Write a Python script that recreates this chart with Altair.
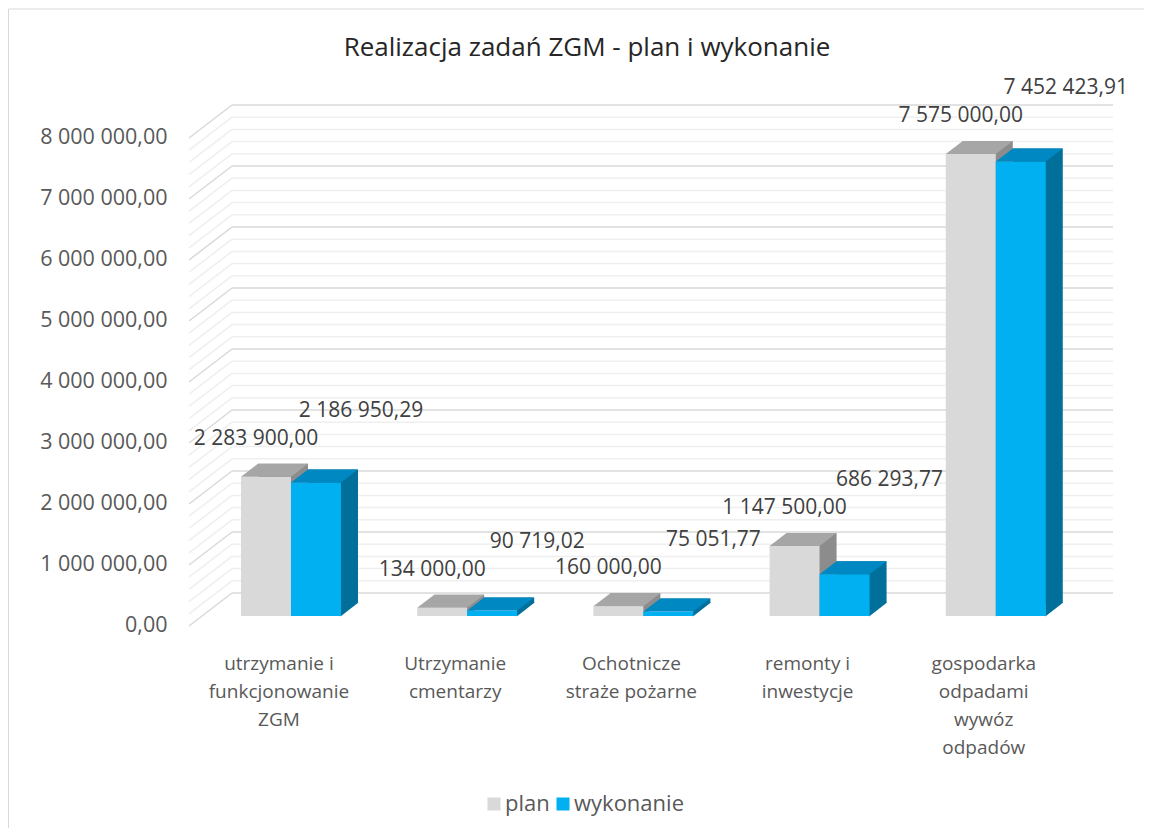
import altair as alt
import pandas as pd

title_text = "Realizacja zadań ZGM - plan i wykonanie"
categories = [
    "utrzymanie i|funkcjonowanie|ZGM",
    "Utrzymanie|cmentarzy",
    "Ochotnicze|straże pożarne",
    "remonty i|inwestycje",
    "gospodarka|odpadami|wywóz|odpadów",
]
series_names = ["plan", "wykonanie"]
plan_values = [2283900.00, 134000.00, 160000.00, 1147500.00, 7575000.00]
wykonanie_values = [2186950.29, 90719.02, 75051.77, 686293.77, 7452423.91]
y_ticks = [0, 1000000, 2000000, 3000000, 4000000, 5000000, 6000000, 7000000, 8000000]
minor_ticks = [v for v in range(0, 8000001, 200000) if v % 1000000 != 0]

front_colors = ["#D9D9D9", "#00B0F0"]
top_colors = ["#A6A6A6", "#0088C2"]
side_colors = ["#8C8C8C", "#006F9A"]

rows = []
for c, p, w in zip(categories, plan_values, wykonanie_values):
    rows.append({"cat": c, "series": "plan", "value": p})
    rows.append({"cat": c, "series": "wykonanie", "value": w})
df = pd.DataFrame(rows)

FONT = "Open Sans"
W, H = 924, 488
FRONT = 23      # front face drop below back wall (px)
DEPTH_Y = 13

x_enc = alt.X(
    "cat:N",
    sort=categories,
    scale=alt.Scale(paddingInner=0.4325, paddingOuter=0.3383, align=0.436),
    axis=alt.Axis(
        title=None, domain=False, ticks=False, grid=False, labelAngle=0,
        labelExpr="split(datum.label, '|')", labelLineHeight=28,
        labelFontSize=19, labelColor="#595959", labelPadding=61,
        labelOffset=-12, labelLimit=0, labelBaseline="top",
    ),
)
y_scale = alt.Scale(domain=[0, 8000000], nice=False, zero=True)
y_axis = alt.Axis(
    title=None, values=y_ticks, format=",.2f", domain=False, ticks=False,
    grid=False, labelFontSize=21.5, labelColor="#595959", labelPadding=22,
    labelOffset=32,
)
y_enc = alt.Y("value:Q", scale=y_scale, axis=y_axis)
xo_front = alt.XOffset("series:N", scale=alt.Scale(domain=series_names, paddingInner=0, paddingOuter=0))
xo_back = alt.XOffset("series:N", scale=alt.Scale(domain=series_names, range=[17, 117], paddingInner=0, paddingOuter=0))
xo_point = alt.XOffset("series:N", scale=alt.Scale(type="point", domain=series_names, range=[25, 75], padding=0))

base = alt.Chart(df)

border = alt.Chart(pd.DataFrame({"a": [0]})).mark_rect(
    fill=None, stroke="#D9D9D9", strokeWidth=1
).encode(x=alt.value(-180.5), x2=alt.value(1200), y=alt.value(-96), y2=alt.value(900))

grid_major = alt.Chart(pd.DataFrame({"value": y_ticks}))
grid_minor = alt.Chart(pd.DataFrame({"value": minor_ticks}))
gy2 = alt.Y2("value:Q")

minor_h = grid_minor.mark_rule(color="#EFEFEF", strokeWidth=1.5).encode(
    x=alt.value(43), x2=alt.value(W), y=y_enc)
minor_d = grid_minor.mark_rule(color="#EFEFEF", strokeWidth=1.5, yOffset=33).encode(
    x=alt.value(0), x2=alt.value(43), y=y_enc, y2=gy2)
major_h = grid_major.mark_rule(color="#D9D9D9", strokeWidth=1.5).encode(
    x=alt.value(43), x2=alt.value(W), y=y_enc)
major_d = grid_major.mark_rule(color="#D9D9D9", strokeWidth=1.5, yOffset=33).encode(
    x=alt.value(0), x2=alt.value(43), y=y_enc, y2=gy2)

back = base.mark_bar(yOffset=FRONT - DEPTH_Y, y2Offset=FRONT - DEPTH_Y).encode(
    x=x_enc, xOffset=xo_back, y=y_enc,
    color=alt.Color("series:N", scale=alt.Scale(domain=series_names, range=side_colors), legend=None),
)
tri = base.transform_calculate(zero="0").mark_point(
    shape="M0.49,0.01L0.49,-0.27L0.85,-0.27Z", size=10000, filled=True, opacity=1,
    strokeWidth=0, yOffset=FRONT,
).encode(
    x=x_enc, xOffset=xo_point, y=alt.Y("zero:Q", scale=y_scale, axis=y_axis),
    color=alt.Color("series:N", scale=alt.Scale(domain=series_names, range=side_colors), legend=None),
)
front = base.mark_bar(yOffset=FRONT, y2Offset=FRONT).encode(
    x=x_enc, xOffset=xo_front, y=y_enc,
    color=alt.Color(
        "series:N", scale=alt.Scale(domain=series_names, range=front_colors),
        legend=alt.Legend(
            title=None, orient="none", legendX=294, legendY=688, direction="horizontal",
            symbolType="square", symbolSize=169, symbolStrokeWidth=0, labelFontSize=22,
            labelColor="#595959", columnPadding=2, padding=0, labelOffset=0,
        ),
    ),
)
top = base.mark_point(
    shape="M-0.5,0L0.5,0L0.84,-0.26L-0.16,-0.26Z", size=10000, filled=True, opacity=1,
    strokeWidth=0, yOffset=FRONT,
).encode(
    x=x_enc, xOffset=xo_point, y=y_enc,
    color=alt.Color("series:N", scale=alt.Scale(domain=series_names, range=top_colors), legend=None),
)
lab_plan = base.transform_filter(alt.datum.series == "plan").mark_text(
    fontSize=21, color="#404040", yOffset=FRONT, dy=-38, dx=-10, baseline="middle",
).encode(x=x_enc, xOffset=xo_point, y=y_enc,
         text=alt.Text("value:Q", format=",.2f"))
# execution labels sit above the taller bar of their group
lab_wyk = base.transform_joinaggregate(
    gmax="max(value)", groupby=["cat"]
).transform_filter(alt.datum.series == "wykonanie").mark_text(
    fontSize=21, color="#404040", yOffset=FRONT, dy=-66, dx=45, baseline="middle",
).encode(x=x_enc, xOffset=xo_point, y=alt.Y("gmax:Q", scale=y_scale, axis=y_axis),
         text=alt.Text("value:Q", format=",.2f"))

title = alt.Chart(pd.DataFrame({"t": [title_text]})).mark_text(
    fontSize=26, color="#262626", baseline="middle", align="center",
).encode(x=alt.value(398), y=alt.value(-57), text="t:N")

chart = alt.layer(
    border, minor_h, minor_d, major_h, major_d, back, tri, front, top, lab_plan, lab_wyk, title
).resolve_scale(
    xOffset="independent", color="independent"
).properties(
    width=W, height=H, autosize="none",
    padding={"left": 181, "top": 97, "right": 31, "bottom": 235},
).configure(
    font=FONT,
    locale={"number": {"decimal": ",", "thousands": " ", "grouping": [3], "currency": ["", ""]}},
).configure_view(stroke=None)

chart.save("out.html", embed_options={"renderer": "svg", "actions": False})
